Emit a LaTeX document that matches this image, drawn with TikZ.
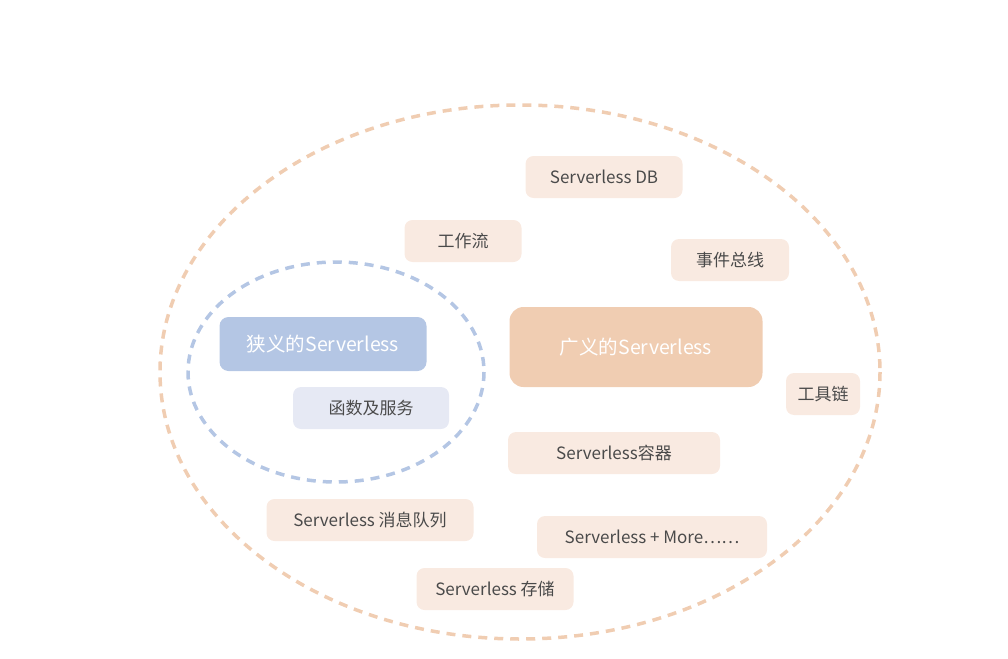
\documentclass[tikz,border=0pt]{standalone}
\usepackage{fontspec}
\setmainfont{Noto Sans CJK SC}
\usepackage{tikz}
\usepackage{xcolor}
\definecolor{peach}{HTML}{F9EAE1}
\definecolor{peachdark}{HTML}{F0CDB2}
\definecolor{bluebox}{HTML}{B4C6E4}
\definecolor{lavender}{HTML}{E6E9F4}
\definecolor{txtgray}{HTML}{4A4A4A}

\begin{document}
\begin{tikzpicture}
        [x=1pt,y=-1pt,
    tag/.style={fill=peach, rounded corners=8pt, text=txtgray, font=\fontsize{17}{20}\selectfont,
        minimum height=42pt, inner sep=0pt},
    bigtag/.style={rounded corners=14pt, text=white, font=\fontsize{19.5}{23}\selectfont, inner sep=0pt},
    ring/.style={dash pattern=on 9pt off 7pt, line width=3.5pt}]
    \useasboundingbox (0,0) rectangle (1008,658);
    % rings
    \draw[ring, peachdark] (520,372) ellipse [x radius=360, y radius=267];
    \draw[ring, bluebox] (336,372) ellipse [x radius=148, y radius=110];
    % narrow
    \node[bigtag, fill=bluebox, minimum width=207pt, minimum height=54pt, rounded corners=9pt] (narrow) at (323,344) {狭义的Serverless};
    \node[tag, fill=lavender, minimum width=156pt] (faas) at (371,408) {函数及服务};
    % broad
    \node[bigtag, fill=peachdark, minimum width=253pt, minimum height=80pt] (broad) at (636,347) {广义的Serverless};
    \node[tag, minimum width=157pt] (db) at (604,177) {Serverless DB};
    \node[tag, minimum width=117pt] (flow) at (463,241) {工作流};
    \node[tag, minimum width=118pt] (bus) at (730,260) {事件总线};
    \node[tag, minimum width=74pt] (tools) at (823,394) {工具链};
    \node[tag, minimum width=212pt] (ctr) at (614,453) {Serverless容器};
    \node[tag, minimum width=207pt] (mq) at (370,520) {Serverless 消息队列};
    \node[tag, minimum width=230pt] (more) at (652,537) {Serverless + More……};
    \node[tag, minimum width=157pt] (store) at (495,589) {Serverless 存储};
\end{tikzpicture}
\end{document}
